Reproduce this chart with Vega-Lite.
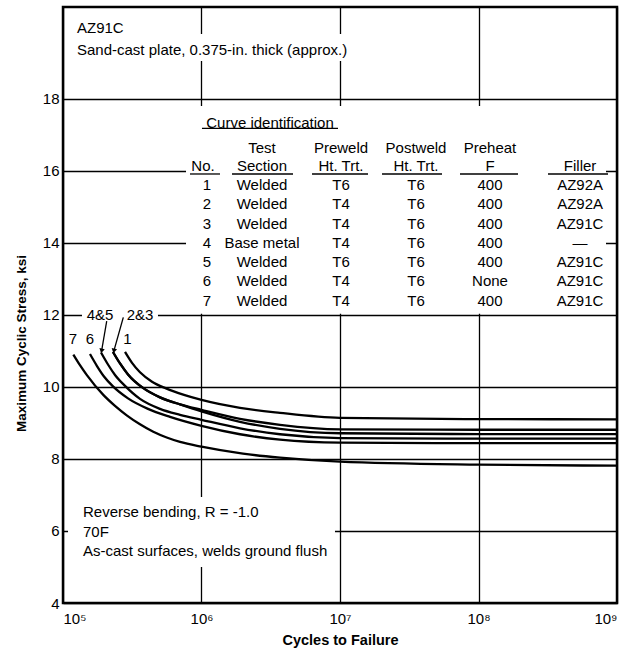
{
  "$schema": "https://vega.github.io/schema/vega-lite/v6.json",
  "width": 554,
  "height": 596,
  "autosize": {"type": "none"},
  "padding": {"left": 63, "top": 7, "right": 13, "bottom": 53},
  "background": "white",
  "config": {
    "view": {"stroke": "black", "strokeWidth": 2.5},
    "font": "Liberation Sans",
    "axis": {
      "domain": false, "ticks": false, "grid": true, "gridColor": "black", "gridWidth": 1.3, "gridOpacity": 1,
      "labelFont": "Liberation Sans", "labelColor": "black", "titleColor": "black", "titleFont": "Liberation Sans"
    },
    "text": {"font": "Liberation Sans", "fontSize": 15, "color": "black"}
  },
  "datasets": {
    "curves": [
      {"curve": "1", "cycles": 280400, "stress": 10.971},
      {"curve": "1", "cycles": 315000, "stress": 10.667},
      {"curve": "1", "cycles": 359700, "stress": 10.406},
      {"curve": "1", "cycles": 439200, "stress": 10.145},
      {"curve": "1", "cycles": 554300, "stress": 9.959},
      {"curve": "1", "cycles": 747400, "stress": 9.779},
      {"curve": "1", "cycles": 1000000, "stress": 9.64},
      {"curve": "1", "cycles": 1897000, "stress": 9.419},
      {"curve": "1", "cycles": 3688000, "stress": 9.281},
      {"curve": "1", "cycles": 10000000, "stress": 9.142},
      {"curve": "1", "cycles": 100000000, "stress": 9.106},
      {"curve": "1", "cycles": 1000000000, "stress": 9.101},
      {"curve": "2", "cycles": 229600, "stress": 10.971},
      {"curve": "2", "cycles": 258000, "stress": 10.652},
      {"curve": "2", "cycles": 294700, "stress": 10.348},
      {"curve": "2", "cycles": 378100, "stress": 9.972},
      {"curve": "2", "cycles": 501700, "stress": 9.71},
      {"curve": "2", "cycles": 699500, "stress": 9.516},
      {"curve": "2", "cycles": 1000000, "stress": 9.364},
      {"curve": "2", "cycles": 1897000, "stress": 9.115},
      {"curve": "2", "cycles": 3688000, "stress": 8.949},
      {"curve": "2", "cycles": 10000000, "stress": 8.824},
      {"curve": "2", "cycles": 100000000, "stress": 8.811},
      {"curve": "2", "cycles": 1000000000, "stress": 8.811},
      {"curve": "3", "cycles": 229600, "stress": 10.971},
      {"curve": "3", "cycles": 258000, "stress": 10.652},
      {"curve": "3", "cycles": 294700, "stress": 10.348},
      {"curve": "3", "cycles": 378100, "stress": 9.972},
      {"curve": "3", "cycles": 501700, "stress": 9.71},
      {"curve": "3", "cycles": 699500, "stress": 9.516},
      {"curve": "3", "cycles": 1000000, "stress": 9.322},
      {"curve": "3", "cycles": 1897000, "stress": 9.032},
      {"curve": "3", "cycles": 3688000, "stress": 8.838},
      {"curve": "3", "cycles": 10000000, "stress": 8.714},
      {"curve": "3", "cycles": 100000000, "stress": 8.692},
      {"curve": "3", "cycles": 1000000000, "stress": 8.692},
      {"curve": "4&5", "cycles": 188100, "stress": 10.957},
      {"curve": "4&5", "cycles": 211300, "stress": 10.623},
      {"curve": "4&5", "cycles": 237400, "stress": 10.333},
      {"curve": "4&5", "cycles": 280400, "stress": 10.029},
      {"curve": "4&5", "cycles": 359700, "stress": 9.668},
      {"curve": "4&5", "cycles": 501700, "stress": 9.391},
      {"curve": "4&5", "cycles": 699500, "stress": 9.225},
      {"curve": "4&5", "cycles": 1000000, "stress": 9.087},
      {"curve": "4&5", "cycles": 1897000, "stress": 8.852},
      {"curve": "4&5", "cycles": 3688000, "stress": 8.686},
      {"curve": "4&5", "cycles": 10000000, "stress": 8.581},
      {"curve": "4&5", "cycles": 100000000, "stress": 8.562},
      {"curve": "4&5", "cycles": 1000000000, "stress": 8.562},
      {"curve": "6", "cycles": 156600, "stress": 10.913},
      {"curve": "6", "cycles": 176000, "stress": 10.58},
      {"curve": "6", "cycles": 197700, "stress": 10.29},
      {"curve": "6", "cycles": 229600, "stress": 10.014},
      {"curve": "6", "cycles": 294700, "stress": 9.682},
      {"curve": "6", "cycles": 410900, "stress": 9.391},
      {"curve": "6", "cycles": 592500, "stress": 9.17},
      {"curve": "6", "cycles": 1000000, "stress": 8.921},
      {"curve": "6", "cycles": 1897000, "stress": 8.686},
      {"curve": "6", "cycles": 3688000, "stress": 8.534},
      {"curve": "6", "cycles": 10000000, "stress": 8.451},
      {"curve": "6", "cycles": 100000000, "stress": 8.437},
      {"curve": "6", "cycles": 1000000000, "stress": 8.437},
      {"curve": "7", "cycles": 118700, "stress": 10.899},
      {"curve": "7", "cycles": 132600, "stress": 10.603},
      {"curve": "7", "cycles": 148300, "stress": 10.333},
      {"curve": "7", "cycles": 195400, "stress": 9.779},
      {"curve": "7", "cycles": 237400, "stress": 9.474},
      {"curve": "7", "cycles": 288400, "stress": 9.212},
      {"curve": "7", "cycles": 359700, "stress": 8.963},
      {"curve": "7", "cycles": 448700, "stress": 8.755},
      {"curve": "7", "cycles": 560700, "stress": 8.595},
      {"curve": "7", "cycles": 699500, "stress": 8.473},
      {"curve": "7", "cycles": 1000000, "stress": 8.34},
      {"curve": "7", "cycles": 1993000, "stress": 8.147},
      {"curve": "7", "cycles": 3688000, "stress": 8.036},
      {"curve": "7", "cycles": 10000000, "stress": 7.925},
      {"curve": "7", "cycles": 100000000, "stress": 7.842},
      {"curve": "7", "cycles": 1000000000, "stress": 7.815}
    ],
    "masks": [
      {"cycles": 122000, "cycles2": 13500000, "stress": 19.05, "stress2": 19.8},
      {"cycles": 773000, "cycles2": 833000000, "stress": 12.03, "stress2": 17.8},
      {"cycles": 137100, "cycles2": 485000, "stress": 11.85, "stress2": 12.15},
      {"cycles": 108700, "cycles2": 9200000, "stress": 5.0, "stress2": 6.94}
    ],
    "underlines": [
      {"cycles": 1008000, "cycles2": 9674000, "stress": 17.177},
      {"cycles": 826000, "cycles2": 1360000, "stress": 15.913},
      {"cycles": 1661000, "cycles2": 4578000, "stress": 15.913},
      {"cycles": 6280000, "cycles2": 15930000, "stress": 15.913},
      {"cycles": 20110000, "cycles2": 54520000, "stress": 15.913},
      {"cycles": 73530000, "cycles2": 192900000, "stress": 15.913},
      {"cycles": 317600000, "cycles2": 861000000, "stress": 15.913}
    ],
    "leaders": [
      {"cycles": 206800, "stress": 11.83, "cycles2": 190000, "stress2": 11.0},
      {"cycles": 272500, "stress": 11.93, "cycles2": 233000, "stress2": 11.0}
    ],
    "notes": [
      {"label": "AZ91C", "cycles": 126200, "stress": 19.98},
      {"label": "Sand-cast plate, 0.375-in. thick (approx.)", "cycles": 126200, "stress": 19.357},
      {"label": "Reverse bending, R = -1.0", "cycles": 139400, "stress": 6.54},
      {"label": "70F", "cycles": 139400, "stress": 5.97},
      {"label": "As-cast surfaces, welds ground flush", "cycles": 139400, "stress": 5.44}
    ],
    "table": [
      {"label": "Curve identification", "cycles": 3124000, "stress": 17.324},
      {"label": "Test", "cycles": 2735000, "stress": 16.627},
      {"label": "Preweld", "cycles": 10170000, "stress": 16.627},
      {"label": "Postweld", "cycles": 35400000, "stress": 16.627},
      {"label": "Preheat", "cycles": 121000000, "stress": 16.627},
      {"label": "No.", "cycles": 1025000, "stress": 16.135},
      {"label": "Section", "cycles": 2735000, "stress": 16.135},
      {"label": "Ht. Trt.", "cycles": 10170000, "stress": 16.135},
      {"label": "Ht. Trt.", "cycles": 35400000, "stress": 16.135},
      {"label": "F", "cycles": 121000000, "stress": 16.135},
      {"label": "Filler", "cycles": 541000000, "stress": 16.135},
      {"label": "1", "cycles": 1096000, "stress": 15.605},
      {"label": "Welded", "cycles": 2735000, "stress": 15.605},
      {"label": "T6", "cycles": 10170000, "stress": 15.605},
      {"label": "T6", "cycles": 35400000, "stress": 15.605},
      {"label": "400", "cycles": 121000000, "stress": 15.605},
      {"label": "AZ92A", "cycles": 541000000, "stress": 15.605},
      {"label": "2", "cycles": 1096000, "stress": 15.069},
      {"label": "Welded", "cycles": 2735000, "stress": 15.069},
      {"label": "T4", "cycles": 10170000, "stress": 15.069},
      {"label": "T6", "cycles": 35400000, "stress": 15.069},
      {"label": "400", "cycles": 121000000, "stress": 15.069},
      {"label": "AZ92A", "cycles": 541000000, "stress": 15.069},
      {"label": "3", "cycles": 1096000, "stress": 14.536},
      {"label": "Welded", "cycles": 2735000, "stress": 14.536},
      {"label": "T4", "cycles": 10170000, "stress": 14.536},
      {"label": "T6", "cycles": 35400000, "stress": 14.536},
      {"label": "400", "cycles": 121000000, "stress": 14.536},
      {"label": "AZ91C", "cycles": 541000000, "stress": 14.536},
      {"label": "4", "cycles": 1096000, "stress": 14.0},
      {"label": "Base metal", "cycles": 2735000, "stress": 14.0},
      {"label": "T4", "cycles": 10170000, "stress": 14.0},
      {"label": "T6", "cycles": 35400000, "stress": 14.0},
      {"label": "400", "cycles": 121000000, "stress": 14.0},
      {"label": "—", "cycles": 541000000, "stress": 14.0},
      {"label": "5", "cycles": 1096000, "stress": 13.464},
      {"label": "Welded", "cycles": 2735000, "stress": 13.464},
      {"label": "T6", "cycles": 10170000, "stress": 13.464},
      {"label": "T6", "cycles": 35400000, "stress": 13.464},
      {"label": "400", "cycles": 121000000, "stress": 13.464},
      {"label": "AZ91C", "cycles": 541000000, "stress": 13.464},
      {"label": "6", "cycles": 1096000, "stress": 12.931},
      {"label": "Welded", "cycles": 2735000, "stress": 12.931},
      {"label": "T4", "cycles": 10170000, "stress": 12.931},
      {"label": "T6", "cycles": 35400000, "stress": 12.931},
      {"label": "None", "cycles": 121000000, "stress": 12.931},
      {"label": "AZ91C", "cycles": 541000000, "stress": 12.931},
      {"label": "7", "cycles": 1096000, "stress": 12.395},
      {"label": "Welded", "cycles": 2735000, "stress": 12.395},
      {"label": "T4", "cycles": 10170000, "stress": 12.395},
      {"label": "T6", "cycles": 35400000, "stress": 12.395},
      {"label": "400", "cycles": 121000000, "stress": 12.395},
      {"label": "AZ91C", "cycles": 541000000, "stress": 12.395},
      {"label": "7", "cycles": 118100, "stress": 11.34},
      {"label": "6", "cycles": 156700, "stress": 11.34},
      {"label": "1", "cycles": 292300, "stress": 11.34},
      {"label": "4&5", "cycles": 185000, "stress": 12.0},
      {"label": "2&3", "cycles": 359700, "stress": 12.0}
    ]
  },
  "encoding": {
    "x": {
      "field": "cycles", "type": "quantitative",
      "scale": {"type": "log", "domain": [100000, 1000000000], "nice": false},
      "axis": {
        "values": [100000, 1000000, 10000000, 100000000, 1000000000],
        "labelExpr": "'10' + ['⁰','¹','²','³','⁴','⁵','⁶','⁷','⁸','⁹'][round(log(datum.value)/LN10)]",
        "labelFontSize": 15, "labelPadding": 8,
        "title": "Cycles to Failure", "titleFontSize": 14.5, "titleFontWeight": "bold", "titlePadding": 7
      }
    },
    "y": {
      "field": "stress", "type": "quantitative",
      "scale": {"domain": [4, 20.55], "nice": false, "zero": false},
      "axis": {
        "values": [4, 6, 8, 10, 12, 14, 16, 18],
        "labelFontSize": 15, "labelPadding": 4,
        "title": "Maximum Cyclic Stress, ksi", "titleFontSize": 13.5, "titleFontWeight": "bold", "titlePadding": 14, "titleY": 336
      }
    }
  },
  "layer": [
    {
      "data": {"name": "masks"},
      "mark": {"type": "rect", "fill": "white", "stroke": null},
      "encoding": {"x2": {"field": "cycles2"}, "y2": {"field": "stress2"}}
    },
    {
      "data": {"name": "curves"},
      "mark": {"type": "line", "color": "black", "strokeWidth": 2.3, "interpolate": "monotone"},
      "encoding": {"detail": {"field": "curve"}}
    },
    {
      "data": {"name": "underlines"},
      "mark": {"type": "rule", "color": "black", "strokeWidth": 1.3},
      "encoding": {"x2": {"field": "cycles2"}}
    },
    {
      "data": {"name": "leaders"},
      "mark": {"type": "rule", "color": "black", "strokeWidth": 1.3},
      "encoding": {"x2": {"field": "cycles2"}, "y2": {"field": "stress2"}}
    },
    {
      "data": {"name": "leaders"},
      "mark": {"type": "point", "shape": "triangle-down", "filled": true, "color": "black", "size": 30, "opacity": 1, "angle": 12},
      "encoding": {"x": {"field": "cycles2", "type": "quantitative"}, "y": {"field": "stress2", "type": "quantitative"}}
    },
    {
      "data": {"name": "notes"},
      "mark": {"type": "text", "align": "left", "baseline": "middle"},
      "encoding": {"text": {"field": "label"}}
    },
    {
      "data": {"name": "table"},
      "mark": {"type": "text", "align": "center", "baseline": "middle"},
      "encoding": {
        "text": {"field": "label"},
        "fontWeight": {"condition": {"test": "datum.label === '—'", "value": "bold"}, "value": "normal"}
      }
    }
  ]
}
